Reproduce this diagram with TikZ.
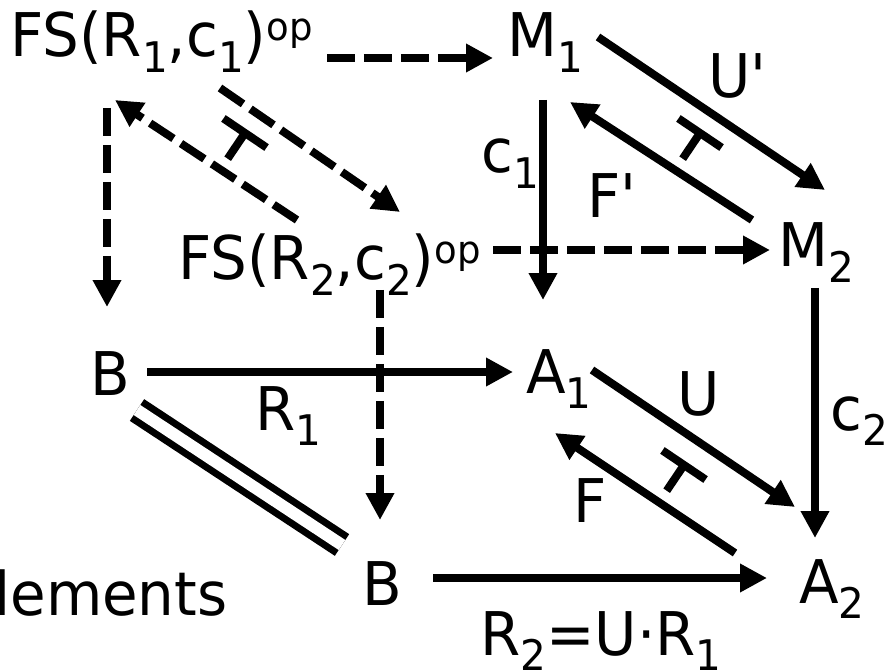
\documentclass[tikz,border=0pt]{standalone}
\usepackage{fontspec}
\setmainfont{DejaVu Sans}[FakeStretch=0.96]
\usepackage{graphicx}
\usetikzlibrary{arrows.meta,positioning}

\newcommand{\lo}[1]{\raisebox{-0.25em}{\scalebox{0.7}{#1}}}
\newcommand{\hi}[1]{\raisebox{0.28em}{\scalebox{0.64}{#1}}}

\tikzset{
  obj/.style={inner sep=0pt,anchor=base west,font=\fontsize{34.3}{40}\selectfont},
  arr/.style={line width=0.16cm,-{Triangle[length=0.54cm,width=0.54cm]}},
  darr/.style={arr,dash pattern=on 0.56cm off 0.18cm},
  adj/.pic={\draw[line width=0.16cm] (-26,0) -- (26,0) (0,0) -- (0,31);}
}

\begin{document}
\begin{tikzpicture}[x=0.02cm,y=-0.02cm]
\useasboundingbox (0,0) rectangle (886,672);

\node[obj] (fs1) at (10,57) {FS(R\lo{1},c\lo{1})\hi{op}};
\node[obj] (m1) at (507,57) {M\lo{1}};
\node[obj] (fs2) at (178,280) {FS(R\lo{2},c\lo{2})\hi{op}};
\node[obj] (m2) at (778,267) {M\lo{2}};
\node[obj] (b1) at (90,395) {B};
\node[obj] (a1) at (526,393) {A\lo{1}};
\node[obj] (b2) at (362,605) {B};
\node[obj] (a2) at (799,603) {A\lo{2}};
\node[obj] (elem) at (-6,615) {lements};

\node[obj] (lc1) at (481,173) {c\lo{1}};
\node[obj] (lu1) at (708,98) {U\textquotesingle};
\node[obj] (lf1) at (587,218) {F\textquotesingle};
\node[obj] (lu) at (677,415) {U};
\node[obj] (lf) at (573,522) {F};
\node[obj] (lc2) at (830,430) {c\lo{2}};
\node[obj] (lr1) at (255,430) {R\lo{1}};
\node[obj] (lr2) at (480,655) {R\lo{2}=U·R\lo{1}};

\draw[darr] ([shift={(317,1)}]fs1.base west) -- ([shift={(-14,1)}]m1.base west);
\draw[darr] ([shift={(97,51)}]fs1.base west) -- ([shift={(17,-88)}]b1.base west);
\draw[darr] ([shift={(210,31)}]fs1.base west) -- ([shift={(222,-68)}]fs2.base west);
\draw[darr] ([shift={(119,-60)}]fs2.base west) -- ([shift={(105,43)}]fs1.base west);
\draw[darr] ([shift={(315,-30)}]fs2.base west) -- ([shift={(-8,-17)}]m2.base west);
\draw[darr] ([shift={(202,10)}]fs2.base west) -- ([shift={(18,-85)}]b2.base west);

\draw[arr] ([shift={(36,43)}]m1.base west) -- ([shift={(17,-93)}]a1.base west);
\draw[arr] ([shift={(91,-20)}]m1.base west) -- ([shift={(47,-77)}]m2.base west);
\draw[arr] ([shift={(-26,-47)}]m2.base west) -- ([shift={(63,45)}]m1.base west);
\draw[arr] ([shift={(37,21)}]m2.base west) -- ([shift={(16,-65)}]a2.base west);
\draw[arr] ([shift={(57,-23)}]b1.base west) -- ([shift={(-13,-21)}]a1.base west);
\draw[arr] ([shift={(66,-23)}]a1.base west) -- ([shift={(-4,-96)}]a2.base west);
\draw[arr] ([shift={(-64,-50)}]a2.base west) -- ([shift={(29,40)}]a1.base west);
\draw[arr] ([shift={(71,-27)}]b2.base west) -- ([shift={(-32,-25)}]a2.base west);
\draw[line width=0.14cm,double,double distance=0.24cm]
  ([shift={(47,15)}]b1.base west) -- ([shift={(-20,-60)}]b2.base west);

\pic[rotate=-34] at (245,133) {adj};
\pic[rotate=-34] at (700,133) {adj};
\pic[rotate=-34] at (684,465) {adj};
\end{tikzpicture}
\end{document}
